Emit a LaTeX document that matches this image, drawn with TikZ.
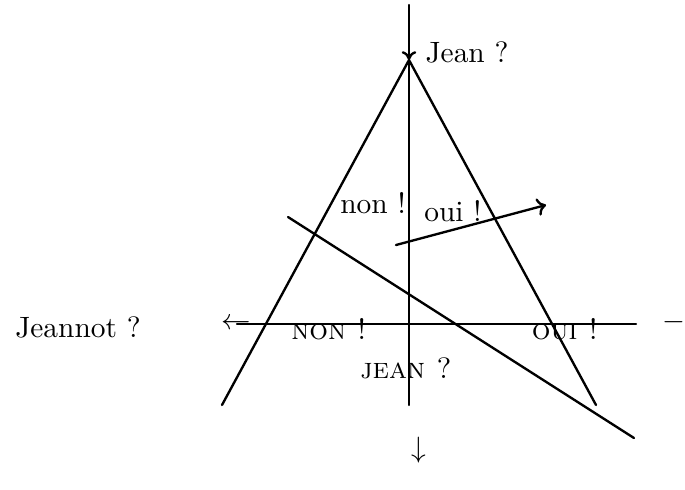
\documentclass[tikz,border=0pt]{standalone}
\usetikzlibrary{arrows.meta}
\begin{document}
\begin{tikzpicture}[x=0.34pt,y=-0.34pt,
  ln/.style={line width=0.8pt,line cap=round},
  lbl/.style={inner sep=0pt,font=\fontsize{10}{12}\selectfont}]
\useasboundingbox (0,0) rectangle (685,489);
\coordinate (top) at (409,5);
\coordinate (apex) at (409,60);
\coordinate (bot) at (409,405);
\coordinate (lb) at (222,405);
\coordinate (rb) at (596,405);
\coordinate (hl) at (237,324);
\coordinate (hr) at (636,324);
\coordinate (d1) at (288,217);
\coordinate (d2) at (634,438);
\coordinate (a1) at (396,245);
\coordinate (a2) at (546,205);
\draw[ln,-{To[length=3pt,width=5pt]}] (top) -- (apex);
\draw[ln] (apex) -- (bot);
\draw[ln] (lb) -- (apex) -- (rb);
\draw[ln] (hl) -- (hr);
\draw[ln] (d1) -- (d2);
\draw[ln,-{To[length=3pt,width=6pt]}] (a1) -- (a2);
\node[lbl,anchor=west] (jean) at (425,52) {Jean ?};
\node[lbl] (non) at (373,203) {non !};
\node[lbl] (oui) at (453,211) {oui !};
\node[lbl] (NON) at (329,329) {\textsc{non !}};
\node[lbl] (OUI) at (565,329) {\textsc{oui !}};
\node[lbl] (JEAN) at (406,368) {\textsc{jean ?}};
\node[lbl] (jeannot) at (78,327) {Jeannot ?};
\node[lbl,anchor=west] (larr) at (221,324) {$\leftarrow$};
\node[lbl,anchor=west] (minus) at (662,322) {$-$};
\node[lbl] (darr) at (419,450) {$\downarrow$};
\end{tikzpicture}
\end{document}
